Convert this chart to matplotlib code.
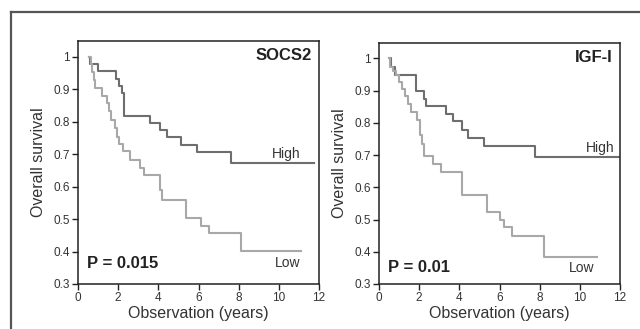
import matplotlib
matplotlib.use("Agg")
import matplotlib.pyplot as plt
from matplotlib.lines import Line2D

plt.rcParams['font.family'] = ['Liberation Sans', 'DejaVu Sans']

# ---- data ----
socs2_high_t = [0.56, 0.62, 1.01, 1.89, 2.06, 2.20, 2.31, 3.59, 4.08, 4.42, 5.11, 5.91, 7.60, 11.75]
socs2_high_s = [1.0, 0.977, 0.955, 0.931, 0.910, 0.888, 0.818, 0.795, 0.775, 0.751, 0.729, 0.706, 0.672, 0.672]
socs2_low_t = [0.56, 0.65, 0.72, 0.80, 0.85, 1.18, 1.43, 1.52, 1.63, 1.84, 1.96, 2.04, 2.22, 2.59, 3.09, 3.29,
               4.08, 4.17, 5.38, 6.11, 6.54, 8.10, 11.10]
socs2_low_s = [1.0, 0.976, 0.952, 0.928, 0.904, 0.880, 0.856, 0.831, 0.806, 0.780, 0.754, 0.730, 0.708, 0.682,
               0.657, 0.636, 0.589, 0.558, 0.504, 0.479, 0.456, 0.403, 0.403]

igf_high_t = [0.50, 0.60, 0.80, 1.86, 2.25, 2.33, 3.34, 3.67, 4.11, 4.45, 5.23, 7.77, 12.0]
igf_high_s = [1.0, 0.975, 0.950, 0.900, 0.875, 0.852, 0.828, 0.805, 0.779, 0.754, 0.727, 0.694, 0.694]
igf_low_t = [0.50, 0.55, 0.70, 0.85, 1.02, 1.13, 1.30, 1.42, 1.58, 1.88, 2.04, 2.12, 2.24, 2.68, 3.11,
             4.11, 5.40, 6.00, 6.22, 6.60, 8.20, 10.85]
igf_low_s = [1.0, 0.975, 0.962, 0.950, 0.926, 0.906, 0.885, 0.860, 0.835, 0.810, 0.761, 0.735, 0.696, 0.672,
             0.648, 0.577, 0.524, 0.500, 0.476, 0.449, 0.383, 0.383]

x_ticks = [0, 2, 4, 6, 8, 10, 12]
y_ticks = [0.3, 0.4, 0.5, 0.6, 0.7, 0.8, 0.9, 1.0]
y_tick_labels = ["0.3", "0.4", "0.5", "0.6", "0.7", "0.8", "0.9", "1"]

panels = [
    dict(title="SOCS2", pval="P = 0.015", high=(socs2_high_t, socs2_high_s), low=(socs2_low_t, socs2_low_s),
         rect=[78/640, 1-284/329, 241/640, 243/329],
         high_lbl=(11.06, 0.688), low_lbl=(11.06, 0.353), p_pos=(0.46, 0.348)),
    dict(title="IGF-I", pval="P = 0.01", high=(igf_high_t, igf_high_s), low=(igf_low_t, igf_low_s),
         rect=[379/640, 1-284/329, 241/640, 241/329],
         high_lbl=(11.75, 0.709), low_lbl=(10.71, 0.338), p_pos=(0.46, 0.338)),
]

fig = plt.figure(figsize=(6.4, 3.29), dpi=100)

high_color = "#6e6e6e"
low_color = "#a8a8a8"
txt_color = "#333333"

for p in panels:
    ax = fig.add_axes(p["rect"])
    ax.step(p["high"][0], p["high"][1], where="post", color=high_color, lw=1.5)
    ax.step(p["low"][0], p["low"][1], where="post", color=low_color, lw=1.5)
    ax.set_xlim(0, 12)
    ax.set_ylim(0.3, 1.048)
    ax.set_xticks(x_ticks)
    ax.set_yticks(y_ticks)
    ax.set_yticklabels(y_tick_labels)
    ax.tick_params(direction="out", length=4, width=1, labelsize=8.5, colors="#222222",
                   labelcolor=txt_color, pad=2)
    for s in ax.spines.values():
        s.set_color("#222222")
        s.set_linewidth(1.1)
    ax.set_xlabel("Observation (years)", fontsize=11.5, color=txt_color, labelpad=1)
    ax.set_ylabel("Overall survival", fontsize=11.5, color=txt_color, labelpad=5)
    ax.text(11.64, 0.988, p["title"], ha="right", va="baseline", fontsize=12, fontweight="bold", color="#222222")
    ax.text(p["p_pos"][0], p["p_pos"][1], p["pval"], ha="left", va="baseline", fontsize=12,
            fontweight="bold", color="#222222")
    ax.text(p["high_lbl"][0], p["high_lbl"][1], "High", ha="right", va="baseline", fontsize=10, color=txt_color)
    ax.text(p["low_lbl"][0], p["low_lbl"][1], "Low", ha="right", va="baseline", fontsize=10, color=txt_color)

# outer frame (top and left edges)
fig.add_artist(Line2D([11/640, 1.0], [1-12/329, 1-12/329], transform=fig.transFigure, color="#555555", lw=1.6))
fig.add_artist(Line2D([11/640, 11/640], [1-12/329, 0.0], transform=fig.transFigure, color="#555555", lw=1.6))

fig.savefig("out.png", dpi=100)
